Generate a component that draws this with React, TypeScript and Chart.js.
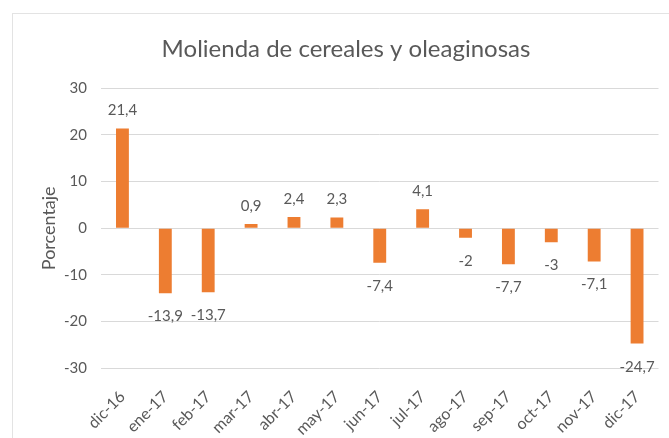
import React, { useEffect, useRef } from "react";
import { Chart, registerables } from "chart.js";

Chart.register(...registerables);

const chartTitle = "Molienda de cereales y oleaginosas";
const yAxisTitle = "Porcentaje";
const categories = [
  "dic-16", "ene-17", "feb-17", "mar-17", "abr-17", "may-17", "jun-17",
  "jul-17", "ago-17", "sep-17", "oct-17", "nov-17", "dic-17",
];
const values = [21.4, -13.9, -13.7, 0.9, 2.4, 2.3, -7.4, 4.1, -2, -7.7, -3, -7.1, -24.7];
const yMin = -30;
const yMax = 30;
const yStep = 10;

const FONT = "Lato";
const TEXT = "#595959";
const BAR = "#ED7D31";
const GRID = "#D9D9D9";

const fmt = (v: number) => String(v).replace(".", ",");

const decorPlugin = {
  id: "decor",
  beforeDraw(chart: any) {
    const ctx = chart.ctx;
    ctx.save();
    ctx.strokeStyle = "#E3E3E3";
    ctx.lineWidth = 1;
    ctx.strokeRect(12.5, 13.5, 720, 500);
    ctx.fillStyle = TEXT;
    ctx.font = `24px ${FONT}`;
    ctx.textAlign = "center";
    ctx.textBaseline = "alphabetic";
    ctx.fillText(chartTitle, 346, 56.7);
    ctx.restore();
  },
  afterDatasetsDraw(chart: any) {
    const ctx = chart.ctx;
    const meta = chart.getDatasetMeta(0);
    ctx.save();
    ctx.fillStyle = TEXT;
    ctx.font = `15px ${FONT}`;
    ctx.textAlign = "center";
    ctx.textBaseline = "alphabetic";
    meta.data.forEach((bar: any, i: number) => {
      const v = values[i];
      const y = v >= 0 ? bar.y - 13.5 : bar.y + 28;
      ctx.fillText(fmt(v), bar.x, y);
    });
    ctx.restore();
  },
};

export default function App() {
  const ref = useRef<HTMLCanvasElement>(null);
  useEffect(() => {
    if (!ref.current) return;
    const chart = new Chart(ref.current, {
      type: "bar",
      data: {
        labels: categories,
        datasets: [
          {
            data: values,
            backgroundColor: BAR,
            barPercentage: 0.3,
            categoryPercentage: 1,
          },
        ],
      },
      options: {
        animation: false,
        responsive: false,
        devicePixelRatio: 1,
        layout: { padding: { left: 0, right: 10.5, top: 88.3, bottom: 0 } },
        plugins: {
          legend: { display: false },
          tooltip: { enabled: false },
          title: { display: false },
        },
        scales: {
          x: {
            grid: { display: false },
            border: { display: false },
            ticks: {
              color: TEXT,
              font: { family: FONT, size: 16 },
              minRotation: 45,
              maxRotation: 45,
              padding: 11,
              autoSkip: false,
            },
            afterFit: (s: any) => {
              s.height = 69.7;
            },
          },
          y: {
            min: yMin,
            max: yMax,
            grid: { color: GRID, drawTicks: false },
            border: { display: false },
            ticks: {
              stepSize: yStep,
              color: TEXT,
              font: { family: FONT, size: 15 },
              padding: 14,
            },
            title: {
              display: true,
              text: yAxisTitle,
              color: TEXT,
              font: { family: FONT, size: 18, weight: "normal" },
              padding: { top: 38.7, bottom: 0 },
            },
            afterFit: (s: any) => {
              s.width = 101;
            },
          },
        },
      },
      plugins: [decorPlugin],
    });
    return () => chart.destroy();
  }, []);
  return (
    <div style={{ position: "fixed", left: 0, top: 0, width: 669, height: 438, background: "#fff" }}>
      <canvas ref={ref} width={669} height={438} style={{ display: "block" }} />
    </div>
  );
}
